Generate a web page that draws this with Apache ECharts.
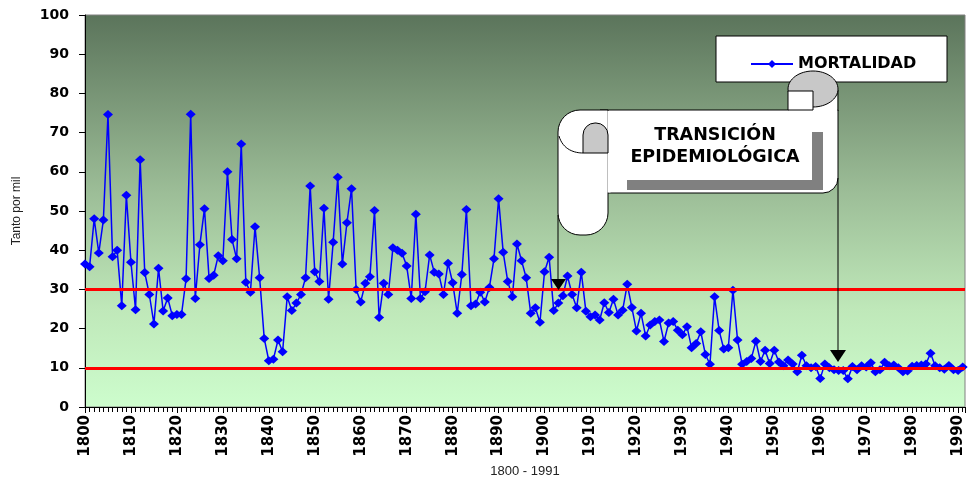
<!DOCTYPE html>
<html>
<head>
<meta charset="utf-8">
<script src="https://cdn.jsdelivr.net/npm/echarts@6/dist/echarts.min.js"></script>
<style>
  html, body { margin: 0; padding: 0; background: #fff; }
  #main { width: 969px; height: 482px; }
</style>
</head>
<body>
<div id="main"></div>
<script>
// tasa de mortalidad (tanto por mil), un valor por año
var mort1800 = [36.5, 35.8, 48, 39.3, 47.7, 74.6, 38.3, 40, 25.8, 54,
    36.9, 24.8, 63.1, 34.3, 28.7, 21.2, 35.4, 24.5, 27.8, 23.3,
    23.6, 23.6, 32.7, 74.7, 27.7, 41.4, 50.6, 32.8, 33.6, 38.6,
    37.3, 60, 42.7, 37.8, 67.1, 31.8, 29.3, 46, 33, 17.5,
    11.8, 12.2, 17.1, 14.1, 28.1, 24.6, 26.5, 28.7, 33, 56.4];
var mort1850 = [34.5, 32, 50.7, 27.5, 42, 58.6, 36.5, 47, 55.7, 30,
    26.8, 31.6, 33.2, 50.1, 22.8, 31.6, 28.7, 40.6, 40, 39.2,
    36, 27.7, 49.2, 27.7, 29.4, 38.8, 34.4, 33.9, 28.7, 36.7,
    31.7, 23.9, 33.8, 50.4, 25.8, 26.3, 29.3, 26.8, 30.5, 37.8,
    53.1, 39.5, 32, 28.1, 41.6, 37.3, 33, 23.9, 25.3, 21.6];
var mort1900 = [34.5, 38.2, 24.6, 26.5, 28.4, 33.4, 28.7, 25.3, 34.4, 24.4,
    23, 23.5, 22.2, 26.6, 24.1, 27.5, 23.5, 24.7, 31.3, 25.4,
    19.4, 23.9, 18.1, 20.9, 21.8, 22.2, 16.7, 21.4, 21.8, 19.6,
    18.4, 20.5, 15.1, 16.2, 19.2, 13.4, 10.9, 28.1, 19.5, 14.8,
    15.1, 29.8, 17.1, 10.9, 11.6, 12.4, 16.8, 11.6, 14.5, 11.1];
var mort1950 = [14.5, 11.5, 10.5, 12, 11, 9, 13.2, 10.5, 10, 10.3,
    7.3, 11, 10, 9.5, 9.3, 9.3, 7.2, 10.3, 9.5, 10.5,
    10.2, 11.3, 9, 9.5, 11.4, 10.5, 10.7, 10, 9, 9.2,
    10.4, 10.6, 10.7, 11, 13.7, 10.5, 10, 9.6, 10.6, 9.5,
    9.3, 10.2];
var firstYear = 1800;
var lastYear = 1991;
var refLines = [30, 10];
var serieName = 'MORTALIDAD';

var myChart;
window.onload = function () {
    myChart = echarts.init(document.getElementById('main'));
    draw();
};

function draw() {
    var all = mort1800.concat(mort1850, mort1900, mort1950);
    var puntos = [];
    for (var i = 0; i < all.length; i++) {
        puntos.push([firstYear + i, all[i]]);
    }
    var boldFont = 'DejaVu Sans';
    var grisRollo = '#c8c8c8';

    var option = {
        animation: false,
        backgroundColor: '#ffffff',
        grid: {
            left: 85, right: 4, top: 15, bottom: 75,
            containLabel: false,
            outerBoundsMode: 'none',
            show: true,
            borderColor: '#808080',
            borderWidth: 1,
            backgroundColor: new echarts.graphic.LinearGradient(0, 0, 0, 1, [
                { offset: 0, color: '#5b745b' },
                { offset: 0.45, color: '#9cbd97' },
                { offset: 0.75, color: '#bfe8b9' },
                { offset: 1, color: '#cdfdcd' }
            ])
        },
        legend: {
            data: [serieName],
            left: 745, top: 51,
            itemWidth: 42, itemHeight: 10, itemGap: 5,
            z: 120,
            textStyle: { fontFamily: boldFont, fontWeight: 'bold', fontSize: 16, color: '#000' }
        },
        xAxis: {
            type: 'value',
            min: firstYear, max: lastYear + 0.5,
            interval: 10,
            name: firstYear + ' - ' + lastYear,
            nameLocation: 'middle',
            nameGap: 55,
            nameTextStyle: { fontFamily: 'Liberation Sans', fontSize: 13, color: '#222' },
            axisLine: { lineStyle: { color: '#000', width: 1 } },
            axisTick: { length: 6, lineStyle: { color: '#000' } },
            minorTick: { show: true, splitNumber: 10, length: 5, lineStyle: { color: '#000' } },
            splitLine: { show: false },
            axisLabel: {
                rotate: 90, margin: 8,
                showMaxLabel: false,
                formatter: function (v) { return String(v); },
                fontFamily: boldFont, fontWeight: 'bold', fontSize: 15, color: '#000'
            }
        },
        yAxis: {
            type: 'value',
            min: 0, max: 100, interval: 10,
            name: 'Tanto por mil',
            nameLocation: 'middle',
            nameGap: 62,
            nameTextStyle: { fontFamily: 'Liberation Sans', fontSize: 12, color: '#222' },
            axisLine: { show: true, lineStyle: { color: '#000', width: 1 } },
            axisTick: { show: true, length: 6, lineStyle: { color: '#000' } },
            splitLine: { show: false },
            axisLabel: { margin: 16, fontFamily: boldFont, fontWeight: 'bold', fontSize: 14, color: '#000' }
        },
        series: [{
            name: serieName,
            type: 'line',
            data: puntos,
            symbol: 'diamond',
            symbolSize: [10, 9],
            showAllSymbol: true,
            lineStyle: { color: '#0000ff', width: 1.5 },
            itemStyle: { color: '#0000ff' },
            markLine: {
                silent: true,
                symbol: 'none',
                label: { show: false },
                lineStyle: { color: '#ff0000', width: 3, type: 'solid' },
                data: refLines.map(function (v) { return { yAxis: v }; })
            }
        }],
        graphic: [
            // caja de leyenda
            { type: 'rect', z: 100, shape: { x: 716, y: 36, width: 231, height: 46 },
              style: { fill: '#fff', stroke: '#000', lineWidth: 1 } },
            // pergamino
            { type: 'rect', z: 101, shape: { x: 600, y: 110, width: 238, height: 83, r: [0, 0, 15, 0] },
              style: { fill: '#fff', stroke: '#000', lineWidth: 1 } },
            { type: 'rect', z: 102, shape: { x: 558, y: 110, width: 50, height: 125, r: [22, 0, 22, 22] },
              style: { fill: '#fff', stroke: '#000', lineWidth: 1 } },
            { type: 'rect', z: 103, shape: { x: 607.5, y: 111, width: 3, height: 81.5 },
              style: { fill: '#fff' } },
            { type: 'rect', z: 103, shape: { x: 788.5, y: 95, width: 49, height: 16 },
              style: { fill: '#fff' } },
            { type: 'line', z: 104, shape: { x1: 838, y1: 90, x2: 838, y2: 111 },
              style: { stroke: '#000', lineWidth: 1 } },
            { type: 'ellipse', z: 105, shape: { cx: 813, cy: 89, rx: 25, ry: 18 },
              style: { fill: grisRollo, stroke: '#000', lineWidth: 1 } },
            { type: 'rect', z: 106, shape: { x: 788, y: 91, width: 25, height: 19 },
              style: { fill: '#fff', stroke: '#000', lineWidth: 1 } },
            { type: 'rect', z: 105, shape: { x: 583, y: 123, width: 25, height: 30, r: [12, 12, 0, 0] },
              style: { fill: grisRollo, stroke: '#000', lineWidth: 1 } },
            { type: 'bezierCurve', z: 105, shape: { x1: 559, y1: 136, x2: 583, y2: 153, cpx1: 563, cpy1: 150, cpx2: 575, cpy2: 153 },
              style: { fill: null, stroke: '#000', lineWidth: 1 } },
            { type: 'rect', z: 105, shape: { x: 812, y: 132, width: 11, height: 58 },
              style: { fill: '#808080' } },
            { type: 'rect', z: 105, shape: { x: 627, y: 180, width: 196, height: 10 },
              style: { fill: '#808080' } },
            { type: 'text', z: 107, style: { x: 715, y: 135, text: 'TRANSICIÓN', align: 'center', verticalAlign: 'middle',
              font: 'bold 17.5px "DejaVu Sans"', fill: '#000' } },
            { type: 'text', z: 107, style: { x: 715, y: 157, text: 'EPIDEMIOLÓGICA', align: 'center', verticalAlign: 'middle',
              font: 'bold 17.5px "DejaVu Sans"', fill: '#000' } },
            // flechas
            { type: 'line', z: 104, shape: { x1: 558, y1: 215, x2: 558, y2: 282 },
              style: { stroke: '#000', lineWidth: 1 } },
            { type: 'polygon', z: 104, shape: { points: [[551, 279], [566, 279], [558.5, 290]] },
              style: { fill: '#000' } },
            { type: 'line', z: 104, shape: { x1: 838, y1: 178, x2: 838, y2: 351 },
              style: { stroke: '#000', lineWidth: 1 } },
            { type: 'polygon', z: 104, shape: { points: [[830, 350], [846, 350], [838, 362]] },
              style: { fill: '#000' } }
        ]
    };
    myChart.setOption(option);
}
</script>
</body>
</html>
